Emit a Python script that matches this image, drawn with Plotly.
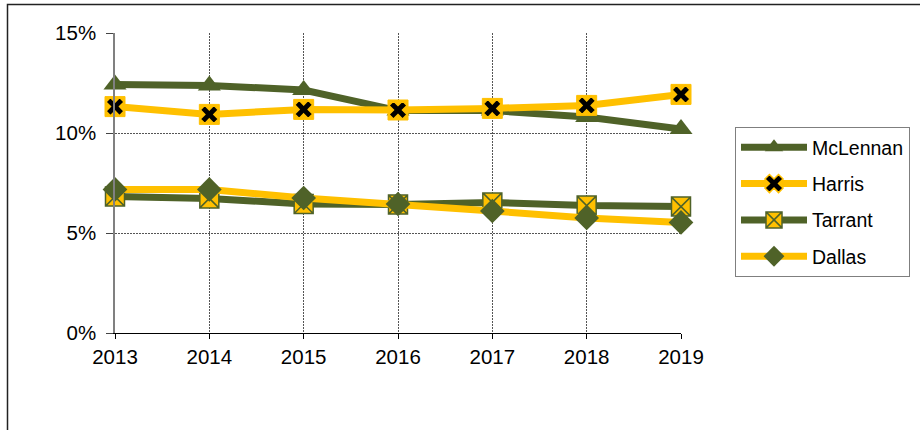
import plotly.graph_objects as go

years = [2013, 2014, 2015, 2016, 2017, 2018, 2019]
mclennan = [12.43, 12.38, 12.15, 11.12, 11.12, 10.8, 10.2]
harris = [11.32, 10.93, 11.18, 11.15, 11.23, 11.38, 11.93]
tarrant = [6.82, 6.73, 6.45, 6.42, 6.53, 6.37, 6.32]
dallas = [7.18, 7.18, 6.75, 6.45, 6.1, 5.75, 5.53]
y_ticks = [0, 5, 10, 15]
y_labels = ["0%", "5%", "10%", "15%"]

GREEN = "#4F6228"
YELLOW = "#FFC000"

W, H = 920, 430
L, R, T, B = 115, 681, 33, 333

fig = go.Figure()

fig.add_trace(go.Scatter(
    x=years, y=mclennan, name="McLennan", mode="lines+markers", legendgroup="mc",
    line=dict(color=GREEN, width=7),
    marker=dict(symbol="triangle-up", size=20, color=GREEN),
    cliponaxis=False))

# Harris: yellow squares underneath, then line + black X on top
fig.add_trace(go.Scatter(
    x=years, y=harris, name="Harris", mode="markers", showlegend=False,
    legendgroup="harris",
    marker=dict(symbol="square", size=20, color=YELLOW, line=dict(color=YELLOW, width=1)),
    cliponaxis=False))
fig.add_trace(go.Scatter(
    x=years, y=harris, name="Harris", mode="lines+markers", legendgroup="harris",
    line=dict(color=YELLOW, width=7),
    marker=dict(symbol="x", size=16, color="black", line=dict(color=YELLOW, width=1.5)),
    cliponaxis=False))

fig.add_trace(go.Scatter(
    x=years, y=tarrant, name="Tarrant", mode="lines+markers", legendgroup="ta",
    line=dict(color=GREEN, width=7),
    marker=dict(symbol="square-x", size=19, color=YELLOW, line=dict(color=GREEN, width=1.5)),
    cliponaxis=False))

fig.add_trace(go.Scatter(
    x=years, y=dallas, name="Dallas", mode="lines+markers", legendgroup="da",
    line=dict(color=YELLOW, width=7),
    marker=dict(symbol="diamond", size=19, color=GREEN),
    cliponaxis=False))

pw = R - L
ph = B - T

fig.add_shape(type="rect", xref="paper", yref="paper",
              x0=(7.5 - L) / pw, x1=(W + 20 - L) / pw,
              y0=(B - (H + 20)) / ph, y1=(B - 4.5) / ph,
              line=dict(color="#222222", width=1.5), fillcolor="rgba(0,0,0,0)", layer="below")

GRID = dict(showgrid=True, gridcolor="#555555", griddash="2px,1px", gridwidth=1)

fig.update_layout(
    width=W, height=H,
    margin=dict(l=L, r=W - R, t=T, b=H - B, autoexpand=False),
    paper_bgcolor="white", plot_bgcolor="white",
    font=dict(family="Liberation Sans, Arial, sans-serif", color="black", size=20),
    showlegend=True,
    legend=dict(
        x=(735 - L) / pw, y=(B - 127) / ph, xanchor="left", yanchor="top",
        bordercolor="#7f7f7f", borderwidth=1, bgcolor="white",
        font=dict(size=19.5), itemwidth=66, tracegroupgap=8,
        entrywidth=119, traceorder="grouped",
    ),
    xaxis=dict(
        range=[2013, 2019], tickmode="array", tickvals=years,
        ticktext=[str(y) for y in years],
        showline=True, linecolor="black", linewidth=1,
        ticks="outside", ticklen=5, tickcolor="black",
        zeroline=False, tickfont=dict(size=20.5), **GRID,
    ),
    yaxis=dict(
        range=[0, 15], tickmode="array", tickvals=y_ticks, ticktext=y_labels,
        showline=True, linecolor="#808080", linewidth=1.5,
        ticks="outside", ticklen=7, tickcolor="#444444",
        zeroline=False, tickfont=dict(size=20.5), ticklabelstandoff=6, **GRID,
    ),
)

fig.write_html("out.html", config={"displayModeBar": False},
               post_script="document.body.style.margin='0px';document.body.style.overflow='hidden';")
